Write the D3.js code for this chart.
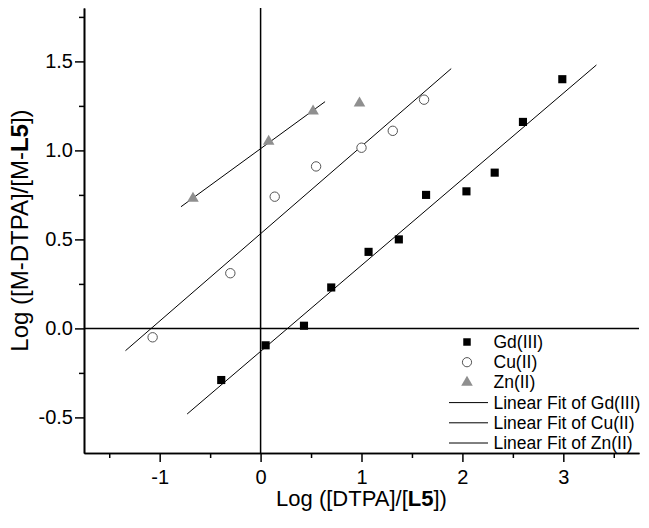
<!DOCTYPE html>
<html lang="en">
  <head>
    <meta charset="UTF-8" />
    <title>Log ratio plot</title>
    <script src="https://d3js.org/d3.v7.min.js"></script>
    <style>
      body {
        margin: 0;
        background: #fff;
      }
      svg text {
        font-family: "Liberation Sans", Arial, sans-serif;
        fill: #000;
      }
      .tick text {
        font-size: 20px;
      }
      .legend text {
        font-size: 17.5px;
      }
    </style>
  </head>
  <body>
    <svg id="chart" width="649" height="528"></svg>

    <script>
      // Gd(III) points
      const gdX = [-0.39, 0.05, 0.43, 0.7, 1.07, 1.37, 1.64, 2.04, 2.32, 2.6, 2.99];
      const gdY = [-0.29, -0.095, 0.015, 0.23, 0.43, 0.5, 0.75, 0.77, 0.875, 1.16, 1.4];
      // Cu(II) points
      const cuX = [-1.07, -0.3, 0.14, 0.55, 1.0, 1.31, 1.62];
      const cuY = [-0.05, 0.31, 0.74, 0.91, 1.015, 1.11, 1.285];
      // Zn(II) points (only the first three go into the fit)
      const znX = [-0.67, 0.08, 0.52, 0.98];
      const znY = [0.73, 1.05, 1.22, 1.265];
      const znFitCount = 3;

      const xMajor = [-1, 0, 1, 2, 3];
      const xMinor = [-1.5, -0.5, 0.5, 1.5, 2.5, 3.5];
      const yMajor = [-0.5, 0, 0.5, 1.0, 1.5];
      const yMinor = [-0.25, 0.25, 0.75, 1.25, 1.75];

      const legendLabels = [
        "Gd(III)",
        "Cu(II)",
        "Zn(II)",
        "Linear Fit of Gd(III)",
        "Linear Fit of Cu(II)",
        "Linear Fit of Zn(II)",
      ];

      const svg = d3.select("#chart");

      const x = d3.scaleLinear().domain([-1.75, 3.75]).range([84, 639]);
      const y = d3.scaleLinear().domain([-0.7, 1.8]).range([453, 8]);

      // least squares line, drawn 10% past the data range on each side
      function linearFit(xs, ys) {
        const mx = d3.mean(xs);
        const my = d3.mean(ys);
        let sxy = 0;
        let sxx = 0;
        xs.forEach((v, i) => {
          sxy += (v - mx) * (ys[i] - my);
          sxx += (v - mx) * (v - mx);
        });
        const slope = sxy / sxx;
        const icpt = my - slope * mx;
        const [lo, hi] = d3.extent(xs);
        const pad = (hi - lo) * 0.1;
        return [lo - pad, hi + pad].map((v) => [v, icpt + slope * v]);
      }

      const fits = [
        linearFit(gdX, gdY),
        linearFit(cuX, cuY),
        linearFit(znX.slice(0, znFitCount), znY.slice(0, znFitCount)),
      ];

      // zero lines
      svg
        .append("line")
        .attr("x1", x(0))
        .attr("x2", x(0))
        .attr("y1", y.range()[0])
        .attr("y2", y.range()[1])
        .attr("stroke", "#000")
        .attr("stroke-width", 1.5);
      svg
        .append("line")
        .attr("x1", x.range()[0])
        .attr("x2", x.range()[1])
        .attr("y1", y(0))
        .attr("y2", y(0))
        .attr("stroke", "#000")
        .attr("stroke-width", 1.5);

      // axes
      const xAxis = svg.append("g").attr("transform", `translate(0,${y.range()[0]})`);
      xAxis
        .append("g")
        .call(d3.axisBottom(x).tickValues(xMinor).tickSize(5).tickSizeOuter(0).tickFormat(""));
      xAxis
        .append("g")
        .call(
          d3.axisBottom(x).tickValues(xMajor).tickSize(9).tickSizeOuter(0).tickPadding(8)
            .tickFormat((d) => String(d))
        );

      const yAxis = svg.append("g").attr("transform", `translate(${x.range()[0]},0)`);
      yAxis
        .append("g")
        .call(d3.axisLeft(y).tickValues(yMinor).tickSize(5).tickSizeOuter(0).tickFormat(""));
      yAxis
        .append("g")
        .call(
          d3.axisLeft(y).tickValues(yMajor).tickSize(9).tickSizeOuter(0).tickPadding(2)
            .tickFormat((d) => d.toFixed(1))
        );

      svg.selectAll(".domain").attr("stroke", "#000").attr("stroke-width", 1.6);
      svg.selectAll(".tick line").attr("stroke", "#000").attr("stroke-width", 1.5);

      // axis titles
      const xt = svg
        .append("text")
        .attr("x", (x.range()[0] + x.range()[1]) / 2)
        .attr("y", 506)
        .attr("text-anchor", "middle")
        .style("font-size", "22px");
      xt.append("tspan").text("Log ([DTPA]/[");
      xt.append("tspan").attr("font-weight", "bold").text("L5");
      xt.append("tspan").text("])");

      const yt = svg
        .append("text")
        .attr("transform", `translate(28,${(y.range()[0] + y.range()[1]) / 2}) rotate(-90)`)
        .attr("text-anchor", "middle")
        .style("font-size", "24px");
      yt.append("tspan").text("Log ([M-DTPA]/[M-");
      yt.append("tspan").attr("font-weight", "bold").text("L5");
      yt.append("tspan").text("])");

      // fit lines
      const line = d3
        .line()
        .x((d) => x(d[0]))
        .y((d) => y(d[1]));
      svg
        .selectAll(".fit")
        .data(fits)
        .enter()
        .append("path")
        .attr("class", "fit")
        .attr("d", line)
        .attr("fill", "none")
        .attr("stroke", "#000")
        .attr("stroke-width", 1);

      const square = d3.symbol().type(d3.symbolSquare).size(66);
      const triangle = d3.symbol().type(d3.symbolTriangle).size(58);

      // points
      svg
        .selectAll(".gd")
        .data(gdX)
        .enter()
        .append("path")
        .attr("d", square)
        .attr("transform", (d, i) => `translate(${x(d)},${y(gdY[i])})`)
        .attr("fill", "#000");

      svg
        .selectAll(".cu")
        .data(cuX)
        .enter()
        .append("circle")
        .attr("cx", (d) => x(d))
        .attr("cy", (d, i) => y(cuY[i]))
        .attr("r", 4.7)
        .attr("fill", "#fff")
        .attr("stroke", "#555")
        .attr("stroke-width", 1);

      svg
        .selectAll(".zn")
        .data(znX)
        .enter()
        .append("path")
        .attr("d", triangle)
        .attr("transform", (d, i) => `translate(${x(d)},${y(znY[i])})`)
        .attr("fill", "#8f8f8f");

      // legend
      const legend = svg.append("g").attr("class", "legend");
      const rowY = (i) => 342 + i * 20.2;
      legendLabels.forEach((label, i) => {
        const g = legend.append("g").attr("transform", `translate(0,${rowY(i)})`);
        if (i === 0) {
          g.append("path").attr("d", d3.symbol().type(d3.symbolSquare).size(56))
            .attr("transform", "translate(467,0)").attr("fill", "#000");
        } else if (i === 1) {
          g.append("circle").attr("cx", 467).attr("cy", 0).attr("r", 4.6)
            .attr("fill", "#fff").attr("stroke", "#555").attr("stroke-width", 1);
        } else if (i === 2) {
          g.append("path").attr("d", triangle)
            .attr("transform", "translate(467,0)").attr("fill", "#8f8f8f");
        } else {
          g.append("line").attr("x1", 449).attr("x2", 488).attr("y1", 0).attr("y2", 0)
            .attr("stroke", "#000").attr("stroke-width", 1);
        }
        g.append("text").attr("x", 493.5).attr("y", 6).text(label);
      });
    </script>
  </body>
</html>
